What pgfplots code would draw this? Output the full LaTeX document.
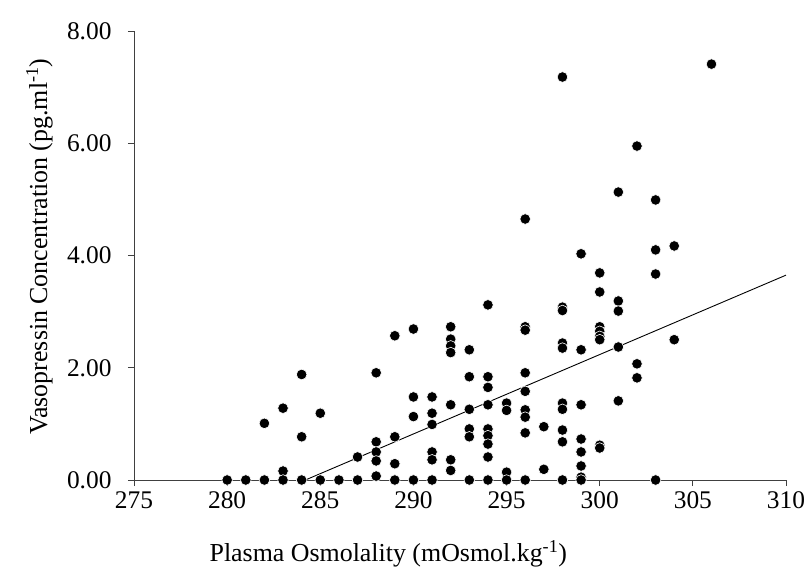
\documentclass[border=0pt]{standalone}
\usepackage{pgfplots}
\pgfplotsset{compat=1.18}
\usepackage{fontspec}
\setmainfont{Liberation Serif}
\begin{document}
\begin{tikzpicture}[x=1bp,y=1bp]
\useasboundingbox (-134bp,-105bp) rectangle (670bp,480bp);
\begin{axis}[
  at={(0,0)}, anchor=south west,
  width=652bp, height=449bp, scale only axis,
  xmin=275, xmax=310, ymin=0, ymax=8,
  xtick={275,280,...,310}, ytick={0,2,4,6,8},
  axis x line*=bottom, axis y line*=left,
  axis line style={line width=0.8bp, black!75},
  tick style={line width=0.8bp, black!75},
  tick align=outside, major tick length=6bp,
  /pgf/number format/assume math mode=true,
  yticklabel style={/pgf/number format/fixed, /pgf/number format/fixed zerofill, /pgf/number format/precision=2, xshift=-13bp},
  xticklabel style={/pgf/number format/1000 sep={}, yshift=-2bp},
  ticklabel style={font=\fontsize{25.5}{28}\selectfont},
  xlabel={Plasma Osmolality (mOsmol.kg\textsuperscript{-1})},
  ylabel={Vasopressin Concentration (pg.ml\textsuperscript{-1})},
  label style={font=\fontsize{26}{30}\selectfont},
  xlabel style={at={(axis description cs:0.39,0)}, anchor=center, yshift=-74bp},
  ylabel style={at={(axis description cs:-0.145,0.52)}, anchor=center},
  clip=false,
]
\addplot[only marks, mark=*, mark size=5.3bp, mark options={fill=black, draw=white, line width=0.6bp}] coordinates {
(280,0) (281,0)
(282,1.01) (282,0)
(283,1.28) (283,0.16) (283,0)
(284,1.88) (284,0.77) (284,0)
(285,1.19) (285,0)
(286,0)
(287,0.41) (287,0)
(288,1.91) (288,0.68) (288,0.50) (288,0.34) (288,0.07)
(289,2.57) (289,0.77) (289,0.29) (289,0)
(290,2.69) (290,1.48) (290,1.13) (290,0)
(291,1.48) (291,1.19) (291,0.99) (291,0.50) (291,0.36) (291,0)
(292,2.73) (292,2.51) (292,2.39) (292,2.27) (292,1.34) (292,0.36) (292,0.17)
(293,2.32) (293,1.84) (293,1.26) (293,0.91) (293,0.77) (293,0)
(294,3.12) (294,1.84) (294,1.65) (294,1.34) (294,0.91) (294,0.79) (294,0.64) (294,0.41) (294,0)
(295,1.37) (295,1.24) (295,0.14) (295,0)
(296,4.65) (296,2.73) (296,2.67) (296,1.91) (296,1.58) (296,1.25) (296,1.12) (296,0.84) (296,0)
(297,0.95) (297,0.19)
(298,7.18) (298,3.08) (298,3.02) (298,2.44) (298,2.35) (298,1.37) (298,1.26) (298,0.89) (298,0.68) (298,0)
(299,4.03) (299,2.32) (299,1.34) (299,0.73) (299,0.50) (299,0.25) (299,0.05) (299,0)
(300,3.69) (300,3.35) (300,2.73) (300,2.65) (300,2.56) (300,2.50) (300,0.62) (300,0.57)
(301,5.13) (301,3.19) (301,3.01) (301,2.37) (301,1.41)
(302,5.95) (302,2.07) (302,1.82)
(303,4.99) (303,4.10) (303,3.67) (303,0)
(304,4.17) (304,2.50)
(306,7.41)
};
\addplot[black, line width=0.9bp] coordinates {(284.2,0) (310,3.65)};
\end{axis}
\end{tikzpicture}
\end{document}
